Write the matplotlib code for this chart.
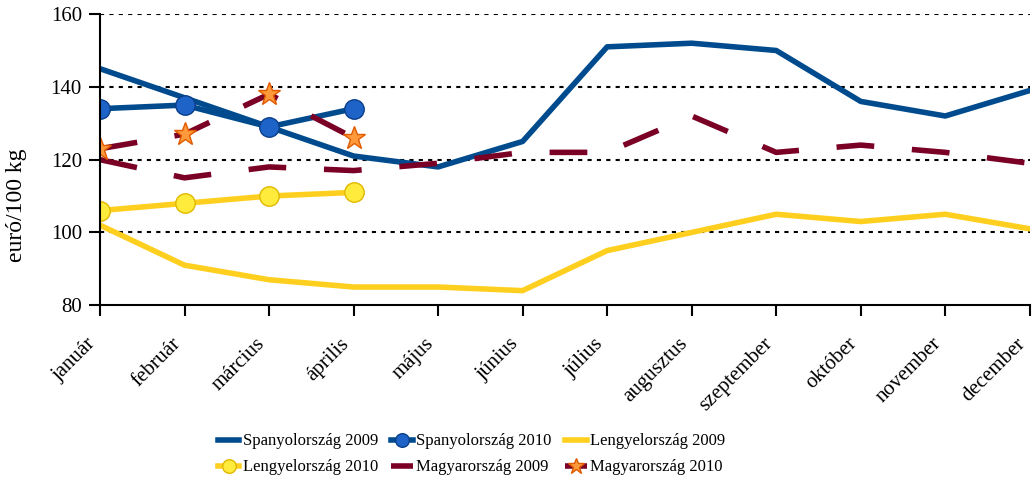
import matplotlib.pyplot as plt
from matplotlib.ticker import FixedLocator

plt.rcParams['font.family'] = ['Liberation Serif', 'DejaVu Serif']

# ------------------------------------------------------------
# Data (euró/100 kg)
# ------------------------------------------------------------
months = ["január", "február", "március", "április", "május", "június",
          "július", "augusztus", "szeptember", "október", "november", "december"]

spain_2009 = [145, 137, 129, 121, 118, 125, 151, 152, 150, 136, 132, 139]
spain_2010 = [134, 135, 129, 134]
poland_2009 = [102, 91, 87, 85, 85, 84, 95, 100, 105, 103, 105, 101]
poland_2010 = [106, 108, 110, 111]
hungary_2009 = [120, 115, 118, 117, 119, 122, 122, 132, 122, 124, 122, 119]
hungary_2010 = [123, 127, 138, 126]

BLUE = "#004B8D"
YELLOW = "#FFCF1F"
MAROON = "#7A0026"
DASH = (6.8, 6.8)

# ------------------------------------------------------------
# Plot
# ------------------------------------------------------------
fig = plt.figure(figsize=(10.36, 4.86), dpi=100)
ax = fig.add_axes([0.0965, 0.372, 0.8975, 0.599])

x09 = list(range(len(months)))
x10 = list(range(len(spain_2010)))

h = []
h += ax.plot(x09, spain_2009, color=BLUE, lw=4, label="Spanyolország 2009", zorder=3)
h += ax.plot(x10, spain_2010, color=BLUE, lw=4, marker="o", ms=14,
             mfc="#1E63C8", mec="#0A3F8A", mew=1, label="Spanyolország 2010", zorder=5)
h += ax.plot(x09, poland_2009, color=YELLOW, lw=4, label="Lengyelország 2009", zorder=3)
h += ax.plot(x10, poland_2010, color=YELLOW, lw=4, marker="o", ms=14,
             mfc="#FFEB3B", mec="#E0B800", mew=1, label="Lengyelország 2010", zorder=5)
h += ax.plot(x09, hungary_2009, color=MAROON, lw=4, dashes=DASH,
             label="Magyarország 2009", zorder=4)
h += ax.plot(x10, hungary_2010, color=MAROON, lw=4, dashes=DASH, marker="*", ms=17,
             mfc="#FF9A3C", mec="#E05A00", mew=1, label="Magyarország 2010", zorder=5)

ax.set_xlim(0, 11)
ax.set_ylim(80, 160)
ax.yaxis.set_major_locator(FixedLocator([80, 100, 120, 140, 160]))
ax.set_xticks(x09)
ax.set_xticklabels(months, rotation=45, ha="right", va="top")
ax.tick_params(axis="both", direction="out", length=8, width=1.5, color="black")
ax.tick_params(axis="y", labelsize=15, pad=5)
ax.tick_params(axis="x", labelsize=15, pad=13)
ax.set_ylabel("euró/100 kg", fontsize=17)
ax.yaxis.set_label_coords(-0.078, 0.344)

for y in [100, 120, 140, 160]:
    ax.axhline(y, color="black", lw=1.5, ls=(0, (2, 2.5)), zorder=1)

for side in ["top", "right"]:
    ax.spines[side].set_visible(False)
for side in ["left", "bottom"]:
    ax.spines[side].set_linewidth(1.5)
    ax.spines[side].set_zorder(6)

# legend is filled row by row in the reference
order = [0, 3, 1, 4, 2, 5]
fig.legend([h[i] for i in order], [h[i].get_label() for i in order],
           loc="center", bbox_to_anchor=(0.455, 0.065), ncol=3, frameon=False,
           fontsize=12, handlelength=1.3, handletextpad=0.2, columnspacing=0.8,
           labelspacing=0.6, markerscale=0.7)

fig.savefig("out.png", dpi=100)
